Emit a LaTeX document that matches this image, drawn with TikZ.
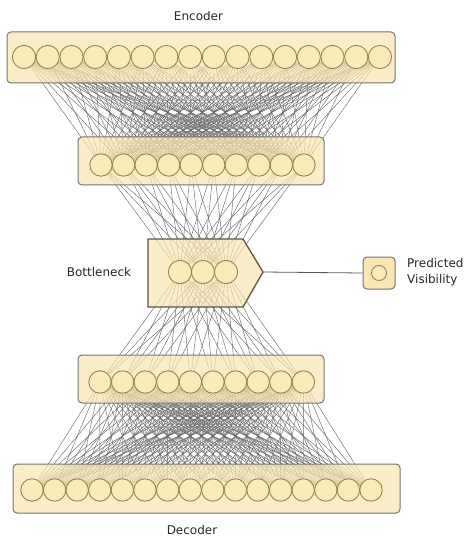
\documentclass[tikz,border=0pt]{standalone}
\usepackage{fontspec}
\setmainfont{DejaVu Sans}
\begin{document}
\definecolor{boxfill}{RGB}{250,230,176}
\definecolor{boxline}{RGB}{115,115,115}
\definecolor{cellfill}{RGB}{251,234,186}
\definecolor{cellline}{RGB}{150,132,85}
\definecolor{bnline}{RGB}{95,85,65}
\definecolor{linkcol}{RGB}{100,100,100}
\pgfdeclarelayer{links}
\pgfdeclarelayer{boxes}
\pgfsetlayers{links,boxes,main}
\tikzset{
  neuron/.style={circle,inner sep=0pt,minimum size=22.4pt,draw=cellline,fill=cellfill,line width=0.9pt},
  bigneuron/.style={neuron,minimum size=23.2pt},
  layerbox/.style={rectangle,rounded corners=4pt,inner sep=0pt,draw=boxline,fill=boxfill,fill opacity=0.7,line width=1pt},
  link/.style={draw=linkcol,line width=0.42pt},
  label/.style={font=\fontsize{12}{16}\selectfont,text=black!85,inner sep=0pt}
}
\begin{tikzpicture}[x=1pt,y=-1pt]
\useasboundingbox (0,0) rectangle (467,537);

% neurons, layer by layer
\foreach \i in {1,...,16} \node[bigneuron] (a\i) at ({24+(\i-1)*23.73},57) {};
\foreach \i in {1,...,10} \node[neuron] (b\i) at ({101+(\i-1)*22.55},165) {};
\foreach \i in {1,...,3}  \node[bigneuron] (c\i) at ({180+(\i-1)*23},272) {};
\foreach \i in {1,...,10} \node[neuron] (d\i) at ({100+(\i-1)*22.6},382) {};
\foreach \i in {1,...,16} \node[neuron] (e\i) at ({32+(\i-1)*22.6},490) {};

% fully connected links
\begin{pgfonlayer}{links}
\foreach \i in {1,...,16} \foreach \j in {1,...,10} \draw[link] (a\i.center) -- (b\j.center);
\foreach \i in {1,...,10} \foreach \j in {1,...,3} \draw[link] (b\i.center) -- (c\j.center);
\foreach \i in {1,...,3} \foreach \j in {1,...,10} \draw[link] (c\i.center) -- (d\j.center);
\foreach \i in {1,...,10} \foreach \j in {1,...,16} \draw[link] (d\i.center) -- (e\j.center);
\end{pgfonlayer}

% layer frames
\begin{pgfonlayer}{boxes}
\node[layerbox,minimum width=388pt,minimum height=51pt] (enc1) at (201,57.5) {};
\node[layerbox,minimum width=246pt,minimum height=48pt] (enc2) at (201,161) {};
\node[layerbox,minimum width=246pt,minimum height=48pt] (dec1) at (201,379) {};
\node[layerbox,minimum width=387pt,minimum height=49pt] (dec2) at (206.5,488.5) {};
\draw[fill=boxfill,fill opacity=0.7,draw=bnline,line width=1.3pt,line join=miter]
  (148,239) -- (243,239) -- (263,272) -- (243,307) -- (148,307) -- cycle;
\end{pgfonlayer}
\coordinate (bntip) at (263,272);

% output unit
\node[layerbox,fill opacity=1,minimum size=32pt] (pv) at (379,273) {};
\node[neuron,minimum size=15pt] (pvc) at (379,273) {};
\draw[draw=black!65,line width=0.8pt] (bntip) -- (pv.west);

% labels
\node[label] (tenc) at (198.5,16) {Encoder};
\node[label] (tdec) at (192,530) {Decoder};
\node[label] (tbn) at (99,272) {Bottleneck};
\node[label,anchor=west,align=left] (tpv) at (407,272.5) {Predicted\\Visibility};
\end{tikzpicture}
\end{document}
